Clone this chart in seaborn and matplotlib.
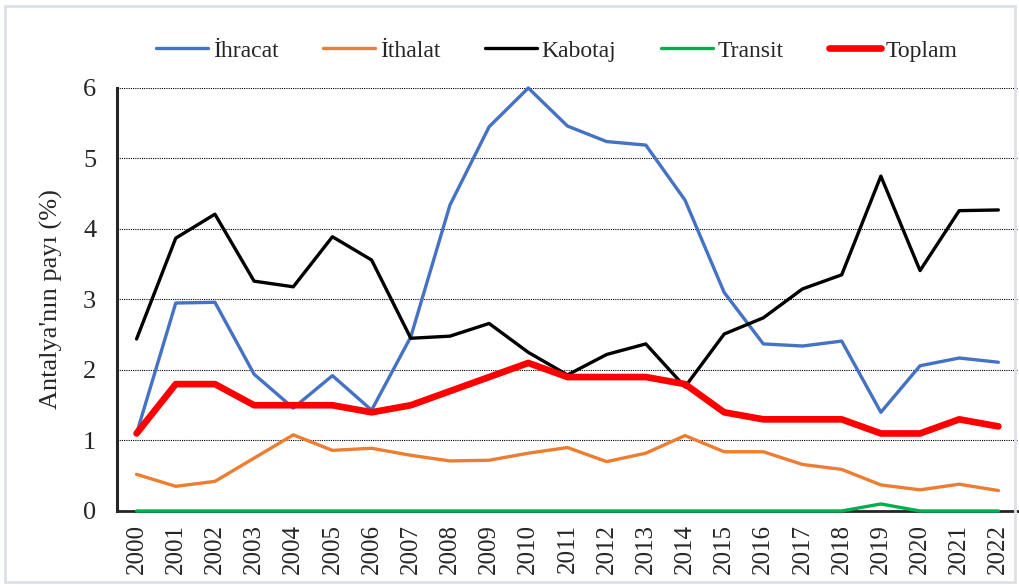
import matplotlib
matplotlib.use("Agg")
import matplotlib.pyplot as plt
import numpy as np
import pandas as pd
import seaborn as sns
from matplotlib.ticker import MultipleLocator
from matplotlib.patches import Rectangle

years = list(range(2000, 2023))
ihracat = [1.10, 2.95, 2.96, 1.94, 1.46, 1.92, 1.43, 2.47, 4.34, 5.45, 6.00, 5.46,
           5.24, 5.19, 4.41, 3.10, 2.37, 2.34, 2.41, 1.40, 2.06, 2.17, 2.11]
ithalat = [0.52, 0.35, 0.42, 0.75, 1.08, 0.86, 0.89, 0.79, 0.71, 0.72, 0.82, 0.90,
           0.70, 0.82, 1.07, 0.84, 0.84, 0.66, 0.59, 0.37, 0.30, 0.38, 0.29]
kabotaj = [2.44, 3.87, 4.21, 3.26, 3.18, 3.89, 3.56, 2.45, 2.48, 2.66, 2.25, 1.93,
           2.22, 2.37, 1.76, 2.51, 2.74, 3.15, 3.35, 4.75, 3.41, 4.26, 4.27]
transit = [0, 0, 0, 0, 0, 0, 0, 0, 0, 0, 0, 0,
           0, 0, 0, 0, 0, 0, 0, 0.10, 0, 0, 0]
toplam = [1.1, 1.8, 1.8, 1.5, 1.5, 1.5, 1.4, 1.5, 1.7, 1.9, 2.1, 1.9,
          1.9, 1.9, 1.8, 1.4, 1.3, 1.3, 1.3, 1.1, 1.1, 1.3, 1.2]

series = ["İhracat", "İthalat", "Kabotaj", "Transit", "Toplam"]
colors = ["#4472C4", "#ED7D31", "#000000", "#00B050", "#FF0000"]
widths = [2.4, 2.4, 2.4, 2.4, 4.8]

df = pd.DataFrame({"Yıl": years, "İhracat": ihracat, "İthalat": ithalat,
                   "Kabotaj": kabotaj, "Transit": transit, "Toplam": toplam})

sns.set_style("white")
plt.rcParams["font.family"] = ["Liberation Serif", "DejaVu Serif"]

fig = plt.figure(figsize=(10.2, 5.85), dpi=100)
ax = fig.add_axes([0.1147, 0.1265, 0.8833, 0.7231])

for name, c, w in zip(series, colors, widths):
    sns.lineplot(data=df, x="Yıl", y=name, ax=ax, color=c, linewidth=w,
                 label=name, zorder=3, clip_on=False)

ax.set_xlim(1999.5, 2022.5)
ax.set_ylim(0, 6)
ax.set_xticks(years)
ax.set_xticklabels([str(y) for y in years], rotation=90, fontsize=18)
ax.yaxis.set_major_locator(MultipleLocator(1))
ax.yaxis.set_minor_locator(MultipleLocator(0.2))
ax.tick_params(axis="y", which="major", direction="inout", length=14, width=2,
               labelsize=19, pad=8)
ax.tick_params(axis="y", which="minor", direction="in", length=7, width=1.5)
ax.tick_params(axis="x", which="major", direction="inout", length=11, width=2,
               pad=4)
ax.grid(axis="y", which="major", color="black", linestyle=(0, (1, 1)),
        linewidth=0.8)
for s in ["top", "right"]:
    ax.spines[s].set_visible(False)
ax.spines["left"].set_linewidth(2.2)
ax.spines["bottom"].set_linewidth(2)
ax.set_xlabel("")
ax.set_ylabel("Antalya'nın payı (%)", fontsize=19, labelpad=14)

ax.legend(loc="lower center", bbox_to_anchor=(0.488, 1.04), ncol=5, frameon=False,
          fontsize=17, handlelength=2.2, handletextpad=0.2, columnspacing=1.9,
          borderaxespad=0)

fig.patches.append(Rectangle((0.005, 0.005), 0.99, 0.985, transform=fig.transFigure,
                             fill=False, edgecolor="#dde1e6", linewidth=2))

fig.savefig("out.png", dpi=100)
